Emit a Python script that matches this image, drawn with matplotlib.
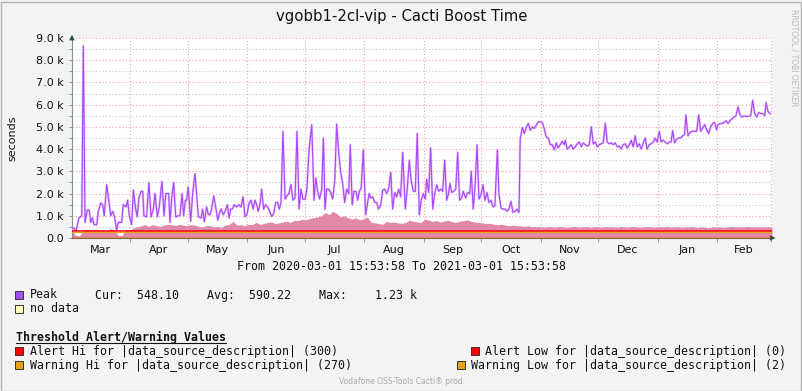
import matplotlib
matplotlib.use("Agg")
import matplotlib.pyplot as plt
from matplotlib.patches import Rectangle
from matplotlib.lines import Line2D
import numpy as np
from datetime import datetime

# Data: days since 2020-03-01 15:53:58 and peak boost time (k seconds)
peak_day = [0.0, 1.0, 2.1, 3.6, 5.1, 5.9, 6.8, 8.0, 9.0, 9.8, 10.6, 11.5, 12.9, 13.7, 15.0, 16.0,
            16.8, 18.1, 19.3, 20.2, 21.2, 22.1, 23.3, 24.1, 25.9, 26.7, 28.2, 29.0, 29.9, 31.1,
            32.0, 33.2, 34.0, 34.9, 36.0, 36.9, 37.5, 38.9, 40.1, 41.2, 42.4, 43.3, 44.5, 45.5,
            46.9, 48.0, 48.9, 50.4, 51.1, 52.0, 53.0, 54.1, 55.4, 56.3, 57.4, 58.2, 59.1, 59.8,
            60.6, 61.9, 62.9, 64.1, 65.0, 65.9, 67.3, 68.1, 69.0, 70.2, 71.1, 72.0, 72.8, 73.9,
            74.9, 76.0, 76.8, 77.7, 78.9, 79.8, 81.0, 81.9, 82.7, 83.6, 84.6, 85.7, 87.1, 88.1,
            89.2, 90.2, 91.2, 92.3, 93.3, 94.5, 95.4, 96.3, 97.1, 98.0, 98.9, 99.9, 101.0, 102.0,
            103.1, 104.1, 105.2, 106.2, 107.2, 108.1, 109.0, 110.0, 111.1, 112.1, 113.1, 114.2,
            115.2, 116.3, 117.3, 118.4, 119.4, 120.4, 121.5, 122.5, 123.6, 125.0, 126.2, 127.1,
            128.1, 129.1, 130.2, 131.1, 131.9, 132.8, 133.8, 134.9, 135.9, 137.0, 138.0, 139.0,
            140.1, 141.1, 142.2, 143.2, 144.3, 145.1, 146.1, 147.0, 148.1, 149.0, 149.8, 150.8,
            151.9, 153.1, 154.0, 154.9, 155.7, 156.8, 157.8, 158.9, 159.9, 161.0, 162.0, 163.0,
            164.1, 165.1, 166.2, 167.2, 168.3, 169.3, 170.3, 171.4, 172.4, 173.8, 174.8, 175.9,
            176.9, 178.0, 179.0, 180.0, 181.1, 182.1, 183.2, 184.2, 184.9, 186.0, 187.0, 188.1,
            189.1, 190.2, 191.2, 192.2, 193.3, 194.3, 195.4, 196.2, 197.1, 198.0, 199.0, 200.1,
            201.1, 202.1, 203.2, 204.0, 205.3, 206.3, 207.4, 208.2, 209.2, 210.1, 211.2, 212.2,
            213.3, 214.3, 215.3, 216.4, 217.4, 218.5, 219.5, 220.5, 221.8, 222.6, 223.7, 224.7,
            225.8, 226.8, 227.8, 228.9, 229.9, 231.0, 232.0, 233.1, 233.7, 234.8, 235.8, 236.9,
            237.9, 239.0, 240.0, 241.0, 242.1, 243.1, 244.2, 245.2, 246.2, 247.3, 248.3, 249.4,
            250.4, 251.5, 252.5, 253.5, 254.6, 255.6, 256.7, 257.2, 258.2, 259.3, 260.3, 261.4,
            262.4, 263.5, 264.5, 265.6, 266.6, 267.6, 268.7, 269.7, 270.8, 271.8, 272.9, 273.9,
            274.9, 276.0, 277.0, 278.1, 279.1, 280.1, 281.2, 282.2, 283.3, 284.3, 285.4, 286.4,
            287.4, 288.5, 289.5, 290.6, 291.6, 292.6, 293.7, 294.7, 295.8, 296.8, 297.9, 298.9,
            299.9, 301.0, 302.0, 303.1, 304.1, 305.1, 306.2, 307.2, 308.3, 309.3, 310.4, 311.4,
            312.4, 313.2, 314.2, 315.3, 316.3, 317.4, 318.4, 319.4, 320.1, 321.2, 322.2, 323.3,
            324.3, 325.7, 326.8, 327.8, 328.8, 329.9, 330.9, 332.0, 333.0, 334.1, 335.1, 336.1,
            336.8, 337.9, 338.9, 340.0, 341.0, 342.1, 343.1, 344.1, 345.2, 346.2, 347.3, 348.3,
            349.3, 350.4, 351.4, 352.5, 353.9, 354.9, 356.0, 357.0, 358.1, 359.1, 360.1, 361.2,
            361.9, 362.9, 364.0]
peak_k = [0.45, 0.45, 0.3, 0.9, 1.0, 8.65, 0.7, 1.26, 1.26, 0.7, 0.9, 0.6, 0.6, 1.2, 1.58, 1.5,
          1.0, 2.4, 1.6, 1.0, 1.2, 1.0, 0.35, 0.7, 0.7, 1.5, 1.4, 1.7, 1.0, 0.6,
          2.15, 1.3, 0.95, 1.8, 2.1, 2.1, 1.0, 0.95, 2.5, 0.95, 1.3, 2.0, 0.95, 1.4,
          2.55, 1.0, 2.0, 2.0, 0.7, 1.8, 2.5, 0.95, 1.0, 1.0, 2.0, 1.0, 1.7, 1.7,
          2.3, 0.75, 2.0, 2.9, 1.9, 0.96, 0.9, 1.3, 0.73, 1.4, 1.05, 1.05, 1.3, 1.9,
          1.4, 0.8, 1.1, 1.3, 1.05, 1.2, 1.5, 0.9, 1.3, 1.3, 1.5, 1.4, 1.5, 1.4,
          1.85, 0.96, 1.05, 1.55, 1.7, 1.3, 1.7, 1.5, 1.2, 1.5, 2.2, 1.3, 1.5, 1.4,
          1.2, 0.97, 1.1, 1.6, 1.6, 1.3, 1.6, 4.8, 1.75, 1.9, 2.0, 2.4,
          1.7, 1.8, 4.8, 1.3, 2.2, 1.75, 1.75, 2.2, 3.96, 5.1, 1.7, 2.7,
          2.1, 1.75, 2.2, 4.5, 1.3, 2.2, 2.2, 2.05, 1.75, 2.55, 5.13, 3.9,
          2.95, 2.45, 1.6, 2.2, 2.0, 4.2, 1.5, 2.1, 2.1, 1.7, 2.1, 2.25,
          3.96, 1.05, 1.5, 2.0, 1.8, 1.85, 1.6, 1.6, 1.3, 1.5, 2.15, 2.2,
          2.0, 2.2, 2.95, 1.3, 2.05, 1.85, 2.2, 1.85, 3.85, 1.3, 2.2, 3.5,
          2.55, 2.1, 2.1, 4.7, 1.05, 1.7, 2.0, 1.75, 2.65, 2.05, 4.05, 1.3,
          2.0, 2.4, 2.1, 2.2, 2.1, 3.5, 1.7, 1.95, 2.45, 2.05, 2.1, 2.2,
          3.85, 1.7, 1.8, 2.1, 1.8, 2.05, 2.0, 3.0, 1.3, 2.25, 4.2, 1.75,
          1.95, 2.4, 1.7, 2.05, 1.6, 1.7, 1.4, 1.45, 3.96, 2.0, 1.35, 1.3,
          1.3, 1.2, 1.3, 1.65, 1.15, 1.2, 1.3, 1.15, 4.45, 4.98, 4.7, 4.98,
          5.16, 4.85, 5.0, 4.93, 5.08, 5.23, 5.23, 5.2, 4.93, 4.55, 4.5, 4.2,
          4.2, 3.96, 4.28, 4.05, 4.2, 4.35, 4.2, 4.4, 4.0, 4.1, 4.2, 4.0,
          4.1, 4.24, 4.32, 4.1, 4.28, 4.2, 4.13, 4.2, 5.0, 4.24, 4.32, 4.1,
          4.2, 4.24, 4.28, 5.16, 4.32, 4.24, 4.28, 4.2, 4.28, 4.1, 4.13, 4.0,
          4.2, 4.24, 4.05, 4.2, 4.4, 4.1, 4.6, 4.1, 4.24, 4.0, 4.28, 4.5,
          4.0, 4.2, 4.24, 4.32, 4.5, 4.32, 4.8, 4.32, 4.4, 4.32, 4.24, 4.32,
          4.32, 4.83, 4.28, 4.45, 4.5, 4.5, 4.6, 4.65, 5.54, 4.6, 4.75, 4.8,
          4.8, 4.8, 5.54, 4.8, 4.94, 5.1, 4.87, 4.7, 5.0, 5.15, 5.2, 4.87,
          5.1, 5.15, 5.15, 5.2, 5.28, 5.15, 5.28, 5.36, 5.44, 5.5, 5.9, 5.55,
          5.44, 5.5, 5.47, 5.47, 5.5, 6.2, 5.6, 5.44, 5.65, 5.6, 5.6, 5.5,
          6.1, 5.7, 5.6]

# average area, one value every 2 days (k seconds)
avg_k = [0.3, 0.12, 0.1, 0.35, 0.38, 0.36, 0.4, 0.38, 0.36, 0.33, 0.42, 0.38, 0.12, 0.1, 0.38,
         0.36, 0.45, 0.5, 0.55, 0.6, 0.52, 0.6, 0.55, 0.52, 0.58, 0.62, 0.6, 0.56, 0.62, 0.58,
         0.55, 0.6, 0.58, 0.52, 0.5, 0.56, 0.55, 0.5, 0.52, 0.48, 0.58, 0.62, 0.75, 0.58, 0.6,
         0.55, 0.62, 0.6, 0.7, 0.62, 0.65, 0.7, 0.72, 0.65, 0.68, 0.72, 0.75, 0.7, 0.8, 0.78,
         0.85, 0.82, 0.88, 0.92, 0.95, 1.0, 1.15, 1.05, 1.2, 1.1, 0.95, 1.0, 0.9, 0.85, 0.9,
         0.82, 0.85, 0.95, 0.7, 0.68, 0.65, 0.62, 0.75, 0.7, 0.72, 0.68, 0.66, 0.7, 0.8, 0.75,
         0.72, 0.7, 0.85, 0.8, 0.75, 0.78, 0.72, 0.76, 0.8, 0.74, 0.7, 0.76, 0.78, 0.82, 0.75,
         0.72, 0.7, 0.68, 0.65, 0.66, 0.62, 0.6, 0.62, 0.58, 0.55, 0.58, 0.56, 0.54, 0.52, 0.55,
         0.5, 0.52, 0.5, 0.48, 0.52, 0.5, 0.48, 0.52, 0.5, 0.47, 0.5, 0.52, 0.49, 0.5, 0.52,
         0.48, 0.5, 0.51, 0.48, 0.52, 0.5, 0.5, 0.47, 0.52, 0.5, 0.49, 0.52, 0.5, 0.48, 0.5,
         0.52, 0.5, 0.48, 0.51, 0.5, 0.53, 0.49, 0.5, 0.52, 0.48, 0.5, 0.5, 0.52, 0.47, 0.5,
         0.49, 0.46, 0.5, 0.48, 0.5, 0.47, 0.5, 0.52, 0.5, 0.51, 0.5, 0.52, 0.5]
avg_step_days = 2

alert_hi, warn_hi, alert_lo, warn_lo = 300, 270, 0, 2
month_names = ['Mar', 'Apr', 'May', 'Jun', 'Jul', 'Aug', 'Sep', 'Oct', 'Nov', 'Dec', 'Jan', 'Feb']
start = datetime(2020, 3, 1, 15, 53, 58)

W, H = 803, 391
fig = plt.figure(figsize=(W / 100, H / 100), dpi=100)
fig.patch.set_facecolor('#F3F3F3')


def fx(x):
    return x / W


def fy(y):
    return 1 - y / H


ax = fig.add_axes([fx(72), fy(238), fx(772) - fx(72), fy(38) - fy(238)])
ax.set_facecolor('white')

days = np.array(peak_day)
peak = np.array(peak_k) * 1000
avg_days = np.arange(len(avg_k)) * avg_step_days
avg = np.array(avg_k) * 1000

# month boundaries
bounds = [datetime(2020, 3, 1)] + [datetime(2020, m, 1) for m in range(4, 13)] + \
         [datetime(2021, 1, 1), datetime(2021, 2, 1), datetime(2021, 3, 1)]
bdays = [(b - start).total_seconds() / 86400 for b in bounds]
mids = [(bdays[i] + bdays[i + 1]) / 2 for i in range(12)]
end_day = (datetime(2021, 3, 1, 15, 53, 58) - start).total_seconds() / 86400

# grid
grid_red = '#F2A0A0'
for v in range(1000, 9001, 1000):
    ax.axhline(v, color=grid_red, lw=0.8, ls=(0, (1, 2)), zorder=1)
for v in range(500, 9001, 1000):
    ax.axhline(v, color='#C8C8C8', lw=0.8, ls=(0, (1, 2)), zorder=1)
for b in bdays[1:]:
    ax.axvline(b, color=grid_red, lw=0.8, ls=(0, (1, 2)), zorder=1)

# average area
ax.fill_between(np.append(avg_days, end_day), 0, np.append(avg, avg[-1]),
                color='#E189A6', lw=0, zorder=2)

# peak line with light halo
ax.plot(days, peak, color='#DDB5FF', lw=1.7, alpha=0.75, zorder=3)
ax.plot(days, peak, color='#A946F7', lw=0.8, zorder=4)

# thresholds
ax.axhline(alert_hi, color='#FF0000', lw=1.1, zorder=5)
ax.axhline(warn_hi, color='#E8A317', lw=0.9, zorder=5)
ax.axhline(warn_lo, color='#E8A317', lw=0.9, zorder=5)
ax.axhline(alert_lo, color='#B02000', lw=0.9, zorder=5)

ax.set_xlim(0, end_day)
ax.set_ylim(0, 9000)

for s in ['top', 'right']:
    ax.spines[s].set_visible(False)
ax.spines['left'].set_color('#7C968B')
ax.spines['bottom'].set_color('#8A6A3A')
ax.spines['left'].set_linewidth(0.8)
ax.spines['bottom'].set_linewidth(0.8)

ax.set_yticks(range(0, 9001, 1000))
ax.set_yticks(range(500, 9001, 1000), minor=True)
ax.set_yticklabels(['0.0'] + [f'{v / 1000:.1f} k' for v in range(1000, 9001, 1000)])
ax.tick_params(axis='y', which='both', length=2, width=0.6, color='#888888',
               labelsize=8, pad=4, labelcolor='#111111')
ax.set_xticks(bdays[1:])
ax.set_xticklabels([])
ax.set_xticks(mids, minor=True)
ax.set_xticklabels(month_names, minor=True)
ax.tick_params(axis='x', which='major', length=3, width=0.6, color='#888888')
ax.tick_params(axis='x', which='minor', length=0, labelsize=8, pad=5, labelcolor='#111111')

# axis arrows
ax.annotate('', xy=(0, 1.03), xytext=(0, 0.985), xycoords='axes fraction',
            arrowprops=dict(arrowstyle='-|>,head_width=0.2,head_length=0.4', color='#2F4F44', lw=0),
            annotation_clip=False)
ax.annotate('', xy=(1.009, 0), xytext=(0.995, 0), xycoords='axes fraction',
            arrowprops=dict(arrowstyle='-|>,head_width=0.2,head_length=0.4', color='#2F4F44', lw=0),
            annotation_clip=False)

# texts
fig.text(fx(402), fy(16), 'vgobb1-2cl-vip - Cacti Boost Time', ha='center', va='center',
         fontsize=10.7, color='#111111')
fig.text(fx(12), fy(138), 'seconds', rotation=90, ha='center', va='center', fontsize=8,
         color='#111111')
fig.text(fx(794), fy(58), 'RRDTOOL / TOBI OETIKER', rotation=-90, ha='center', va='center',
         fontsize=5.5, color='#BBBBBB')
mono = 'DejaVu Sans Mono'
fs = 8.4
fig.text(fx(402), fy(267), 'From 2020-03-01 15:53:58 To 2021-03-01 15:53:58', ha='center',
         va='center', family=mono, fontsize=fs, color='#111111')


def swatch(x, y, color):
    fig.add_artist(Rectangle((fx(x), fy(y + 4)), 8 / W, 8 / H, transform=fig.transFigure,
                             facecolor=color, edgecolor='#333333', lw=0.7))


swatch(15, 295, '#A64CF5')
fig.text(fx(30), fy(295), 'Peak', va='center', family=mono, fontsize=fs, color='#111111')
fig.text(fx(95.5), fy(295), 'Cur:  548.10    Avg:  590.22    Max:    1.23 k', va='center',
         family=mono, fontsize=fs, color='#111111')
swatch(15, 309, '#FFFFC0')
fig.text(fx(30), fy(309), 'no data', va='center', family=mono, fontsize=fs, color='#111111')

fig.text(fx(16), fy(337), 'Threshold Alert/Warning Values', va='center', family=mono,
         fontsize=fs, weight='bold', color='#111111')
fig.add_artist(Line2D([fx(16), fx(226)], [fy(343), fy(343)], transform=fig.transFigure,
                      color='#111111', lw=0.8))
swatch(15, 351, '#FF0000')
fig.text(fx(30), fy(351), f'Alert Hi for |data_source_description| ({alert_hi})', va='center',
         family=mono, fontsize=fs, color='#111111')
swatch(15, 365, '#E8A317')
fig.text(fx(30), fy(365), f'Warning Hi for |data_source_description| ({warn_hi})', va='center',
         family=mono, fontsize=fs, color='#111111')
swatch(471, 351, '#FF0000')
fig.text(fx(786), fy(351), f'Alert Low for |data_source_description| ({alert_lo})', ha='right',
         va='center', family=mono, fontsize=fs, color='#111111')
swatch(457, 365, '#E8A317')
fig.text(fx(786), fy(365), f'Warning Low for |data_source_description| ({warn_lo})', ha='right',
         va='center', family=mono, fontsize=fs, color='#111111')
fig.text(fx(401), fy(381), 'Vodafone OSS-Tools Cacti® prod', ha='center', va='center',
         fontsize=5.5, color='#AAAAAA')

# outer frame
fig.add_artist(Rectangle((0.5 / W, 0.5 / H), (W - 2) / W, (H - 2) / H, transform=fig.transFigure,
                         facecolor='none', edgecolor='#B4B4B4', lw=1))

fig.savefig('out.png', dpi=100, facecolor=fig.get_facecolor())
